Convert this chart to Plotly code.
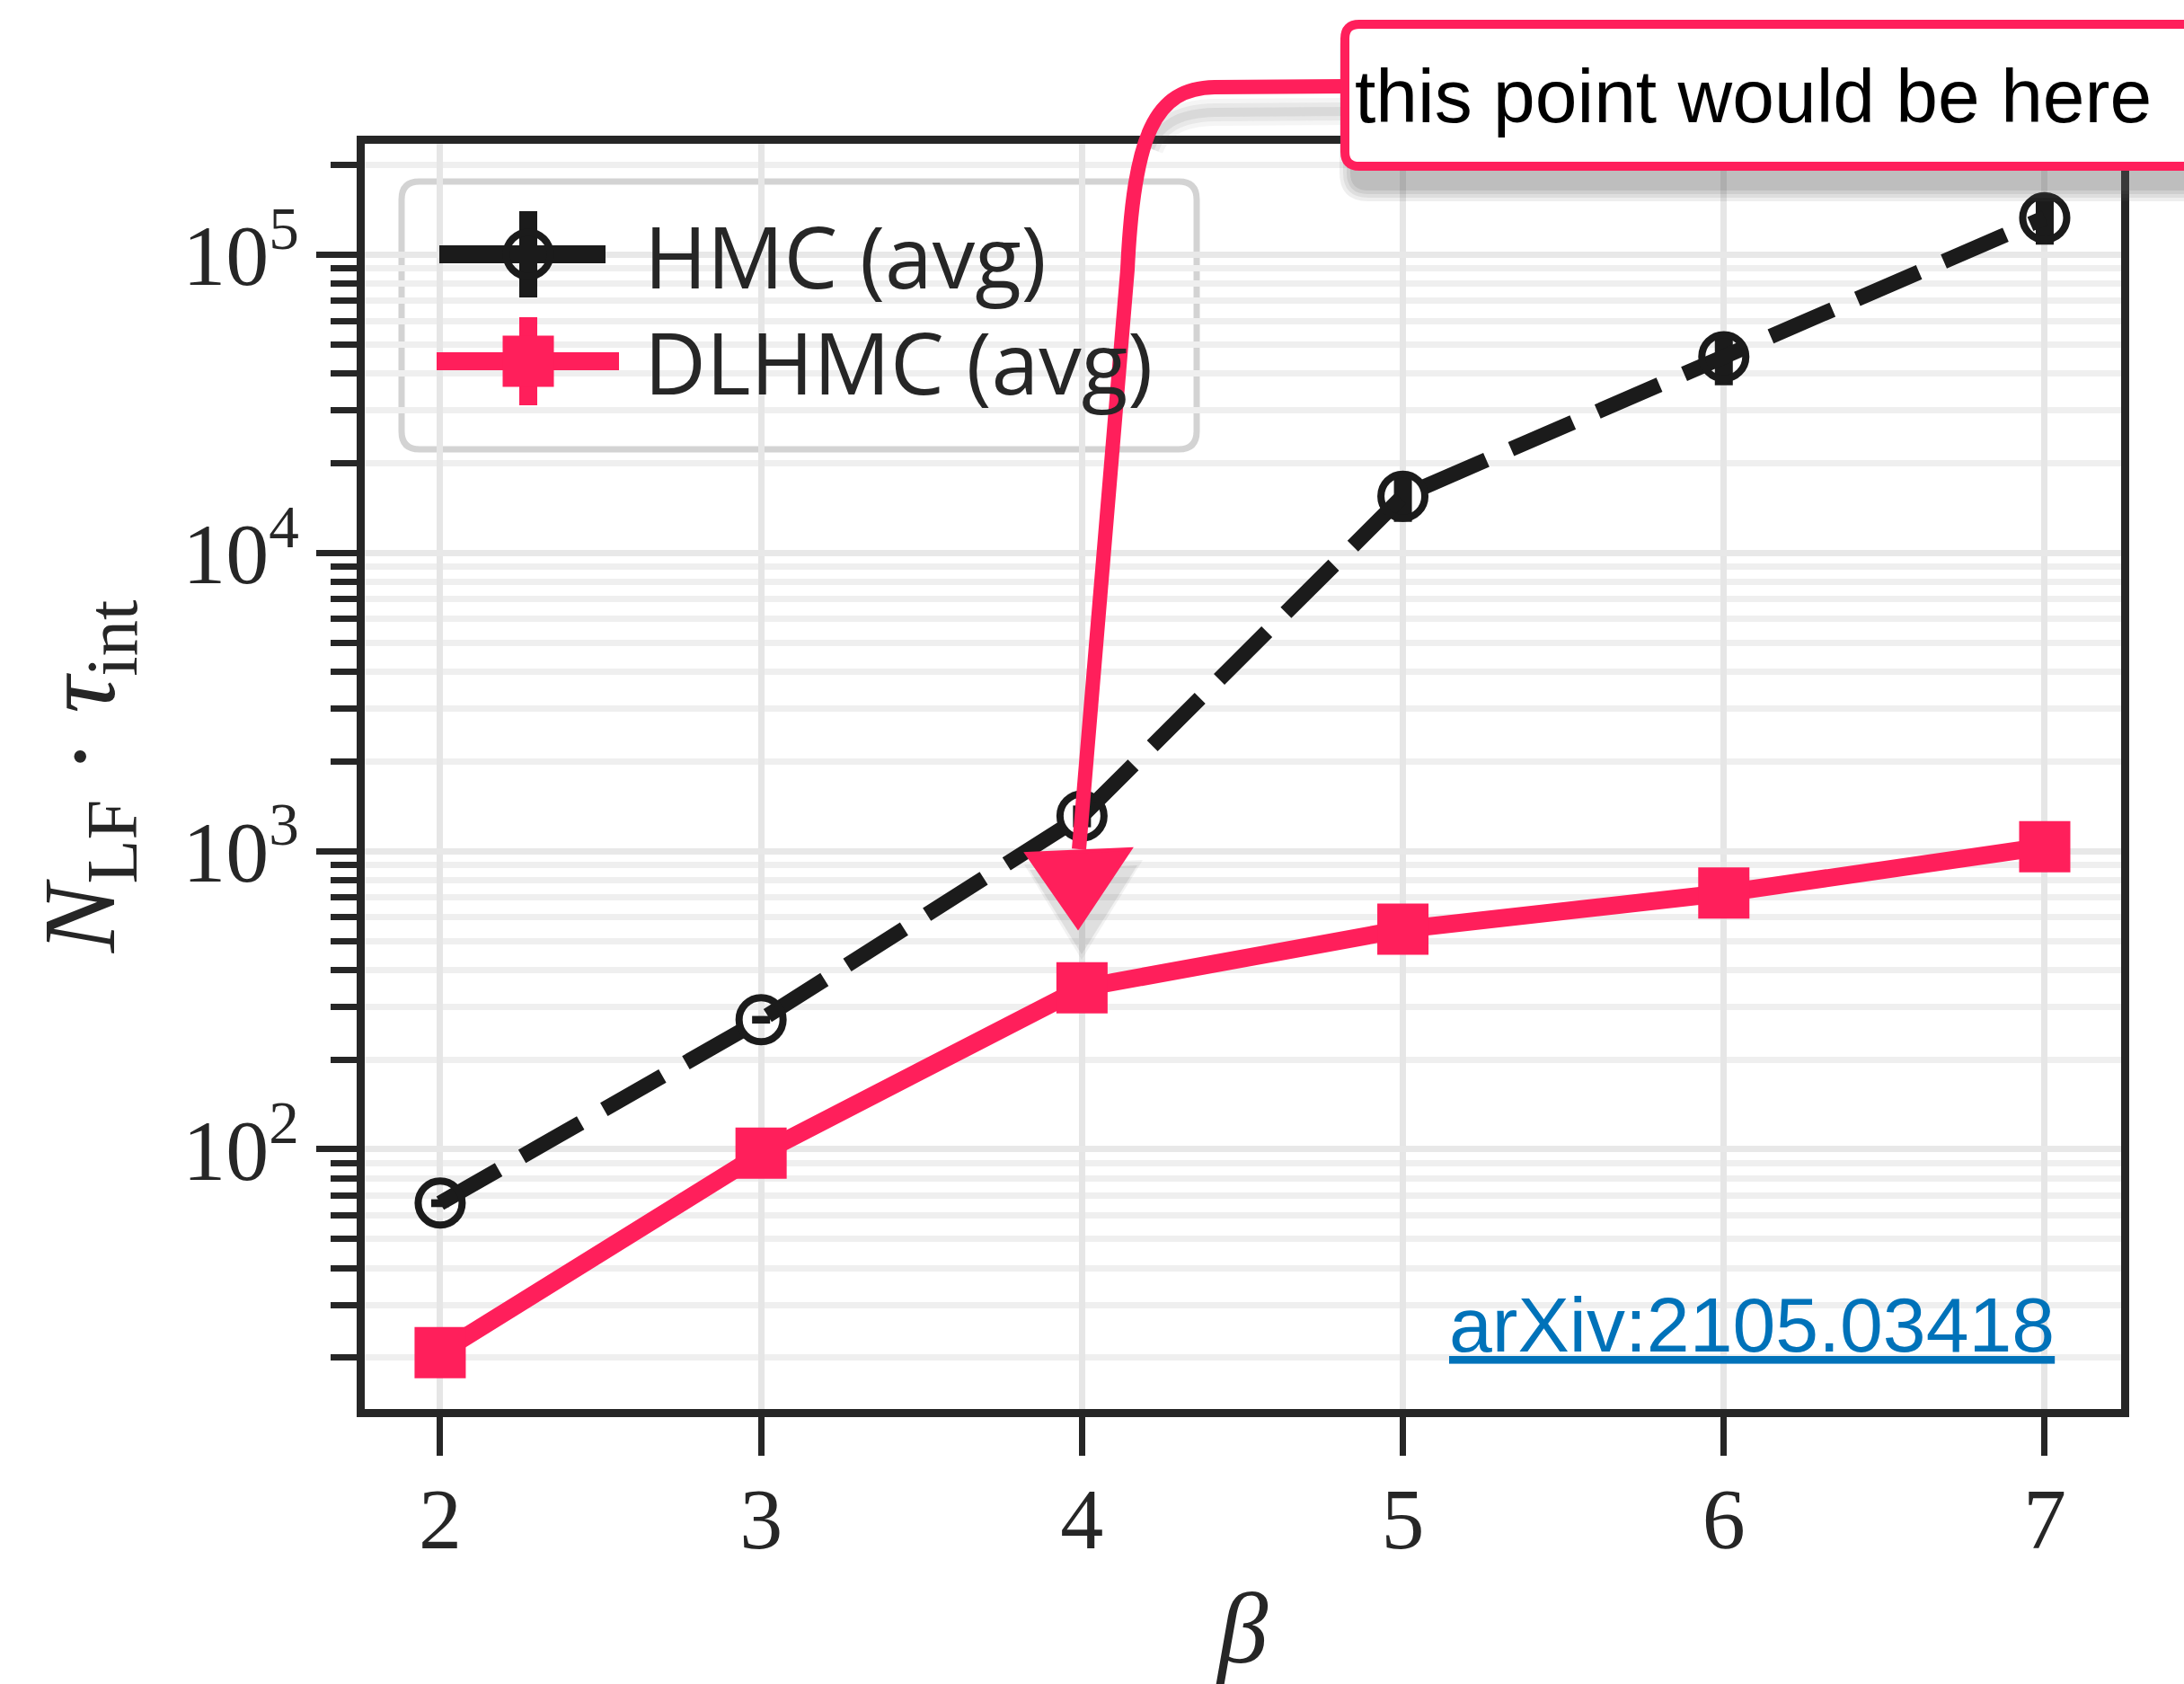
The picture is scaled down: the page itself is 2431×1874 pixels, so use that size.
import plotly.graph_objects as go

# ---------------- data ----------------
beta = [2, 3, 4, 5, 6, 7]
hmc_avg = [66, 272, 1312, 15500, 45500, 133000]
hmc_err = [2, 8, 110, 2800, 9000, 25000]
dlhmc_avg = [20.8, 97, 348, 547, 723, 1035]
dlhmc_err = [1, 4, 15, 25, 30, 40]

x_ticks = [2, 3, 4, 5, 6, 7]
y_ticks = [1e2, 1e3, 1e4, 1e5]
y_ticktext = ["10<sup>2</sup>", "10<sup>3</sup>", "10<sup>4</sup>", "10<sup>5</sup>"]
y_minor = [m * 10 ** k for k in range(1, 6) for m in range(2, 10)]

legend_labels = ["HMC (avg)", "DLHMC (avg)"]
note_text = "this point would be here"
ref_text = "arXiv:2105.03418"

BLACK = "#1b1b1b"
PINK = "#ff1f5b"
FRAME = "#262626"

# ---------------- pixel helpers (decorations only) ----------------
L, R, T, B = 406, 2361, 160, 1568


def px(X):
    return (X - L) / (R - L)


def py(Y):
    return (B - Y) / (B - T)


def P(X, Y):
    return f"{px(X):.5f},{py(Y):.5f}"


def rrect(x0, y0, x1, y1, r):
    return (f"M {P(x0 + r, y0)} L {P(x1 - r, y0)} Q {P(x1, y0)} {P(x1, y0 + r)} "
            f"L {P(x1, y1 - r)} Q {P(x1, y1)} {P(x1 - r, y1)} L {P(x0 + r, y1)} "
            f"Q {P(x0, y1)} {P(x0, y1 - r)} L {P(x0, y0 + r)} Q {P(x0, y0)} {P(x0 + r, y0)} Z")


fig = go.Figure()

# ---------------- data traces ----------------
fig.add_trace(go.Scatter(
    x=beta, y=hmc_avg, mode="lines+markers", name=legend_labels[0],
    line=dict(color=BLACK, width=17, dash="75px,30px"),
    marker=dict(symbol="circle-open", size=49, color=BLACK, line=dict(width=8, color=BLACK)),
    error_y=dict(type="data", array=hmc_err, arrayminus=hmc_err, thickness=20, width=0, color=BLACK),
    showlegend=False,
))
fig.add_trace(go.Scatter(
    x=beta, y=dlhmc_avg, mode="lines+markers", name=legend_labels[1],
    line=dict(color=PINK, width=20),
    marker=dict(symbol="square", size=57, color=PINK, line=dict(width=0)),
    error_y=dict(type="data", array=dlhmc_err, arrayminus=dlhmc_err, thickness=20, width=0, color=PINK),
    showlegend=False,
))

# ---------------- legend samples on an overlay axis ----------------
fig.add_trace(go.Scatter(x=[px(489), px(674)], y=[py(283), py(283)], mode="lines",
                         line=dict(color=BLACK, width=20), xaxis="x2", yaxis="y2",
                         showlegend=False, hoverinfo="skip"))
fig.add_trace(go.Scatter(x=[px(588)], y=[py(283)], mode="markers",
                         marker=dict(symbol="circle-open", size=49, color=BLACK,
                                     line=dict(width=8, color=BLACK)),
                         error_y=dict(type="constant", value=48 / (B - T), thickness=20, width=0, color=BLACK),
                         xaxis="x2", yaxis="y2", showlegend=False, hoverinfo="skip"))
fig.add_trace(go.Scatter(x=[px(486), px(689)], y=[py(402), py(402)], mode="lines",
                         line=dict(color=PINK, width=20), xaxis="x2", yaxis="y2",
                         showlegend=False, hoverinfo="skip"))
fig.add_trace(go.Scatter(x=[px(588)], y=[py(402)], mode="markers",
                         marker=dict(symbol="square", size=57, color=PINK),
                         error_y=dict(type="constant", value=49 / (B - T), thickness=20, width=0, color=PINK),
                         xaxis="x2", yaxis="y2", showlegend=False, hoverinfo="skip"))

shapes = []
# legend box
shapes.append(dict(type="path", xref="paper", yref="paper", path=rrect(447, 202, 1332, 500, 20),
                   fillcolor="rgba(255,255,255,0.8)", line=dict(color="#d3d3d3", width=7), layer="between"))

# callout box shadow (soft, layered)
for i, op in enumerate([0.10, 0.10, 0.12, 0.14]):
    g = 14 - 4 * i
    shapes.append(dict(type="path", xref="paper", yref="paper",
                       path=rrect(1505 - g, 38 - g, 2470 + g, 210 + g, 18 + g),
                       fillcolor=f"rgba(90,90,90,{op})", line=dict(width=0), layer="above"))
# arrow shadow (soft, under the horizontal part only)
arrow_shadow = (f"M {P(1497, 124)} L {P(1352, 125)} C {P(1310, 126)} {P(1290, 140)} {P(1280, 165)}")
for w, op in [(30, 0.06), (20, 0.08), (10, 0.10)]:
    shapes.append(dict(type="path", xref="paper", yref="paper", path=arrow_shadow,
                       line=dict(color=f"rgba(90,90,90,{op})", width=w), layer="above"))
for g, op in [(10, 0.08), (4, 0.12)]:
    shapes.append(dict(type="path", xref="paper", yref="paper",
                       path=f"M {P(1150 - g, 972 - g)} L {P(1262 + g, 967 - g)} L {P(1204, 1058 + g)} Z",
                       fillcolor=f"rgba(90,90,90,{op})", line=dict(width=0), layer="above"))
# arrow
arrow_path = (f"M {P(1497, 96)} L {P(1352, 97)} C {P(1285, 98)} {P(1262, 150)} {P(1255, 300)} "
              f"L {P(1201, 945)}")
shapes.append(dict(type="path", xref="paper", yref="paper", path=arrow_path,
                   line=dict(color=PINK, width=16), layer="above"))
shapes.append(dict(type="path", xref="paper", yref="paper",
                   path=f"M {P(1143, 950)} L {P(1258, 945)} L {P(1200, 1032)} Z",
                   fillcolor=PINK, line=dict(color=PINK, width=4), layer="above"))
# callout box
shapes.append(dict(type="path", xref="paper", yref="paper", path=rrect(1497, 27, 2470, 185, 16),
                   fillcolor="white", line=dict(color=PINK, width=10), layer="above"))

annotations = [
    dict(text=legend_labels[0], x=px(715), y=py(284), xref="paper", yref="paper",
         xanchor="left", yanchor="middle", showarrow=False,
         font=dict(family="Open Sans", size=95, color=FRAME)),
    dict(text=legend_labels[1], x=px(715), y=py(402), xref="paper", yref="paper",
         xanchor="left", yanchor="middle", showarrow=False,
         font=dict(family="Open Sans", size=95, color=FRAME)),
    dict(text=note_text, x=px(1506), y=py(107), xref="paper", yref="paper",
         xanchor="left", yanchor="middle", showarrow=False,
         font=dict(family="Liberation Sans", size=84, color="black")),
    dict(text=f"<u>{ref_text}</u>", x=px(1611), y=py(1474), xref="paper", yref="paper",
         xanchor="left", yanchor="middle", showarrow=False,
         font=dict(family="Liberation Sans", size=86, color="#0072b9")),
]

fig.update_layout(
    width=2431, height=1874,
    margin=dict(l=L, r=2431 - R, t=T, b=1874 - B, pad=0),
    paper_bgcolor="white", plot_bgcolor="white",
    showlegend=False,
    shapes=shapes, annotations=annotations,
    xaxis=dict(
        range=[1.765, 7.238], tickvals=x_ticks, showline=True, linewidth=9, linecolor=FRAME,
        mirror=True, ticks="outside", ticklen=43, tickwidth=7, tickcolor=FRAME,
        showgrid=True, gridcolor="#e6e6e6", gridwidth=7, zeroline=False,
        ticklabelstandoff=-12,
        tickfont=dict(family="Liberation Serif", size=96, color=FRAME),
        title=dict(text="<i>β</i>", font=dict(family="Liberation Serif", size=112, color=FRAME), standoff=40),
    ),
    yaxis=dict(
        type="log", range=[1.129, 5.372], tickvals=y_ticks, ticktext=y_ticktext,
        showline=True, linewidth=9, linecolor=FRAME, mirror=True,
        ticks="outside", ticklen=45, tickwidth=7, tickcolor=FRAME,
        showgrid=True, gridcolor="#e8e8e8", gridwidth=7, zeroline=False,
        tickfont=dict(family="Liberation Serif", size=96, color=FRAME),
        minor=dict(tickvals=y_minor, ticks="outside", ticklen=29, tickwidth=7, tickcolor=FRAME,
                   showgrid=True, gridcolor="#efefef", gridwidth=7),
        title=dict(text="<i>N</i><sub>LF</sub> · <i>τ</i><sub>int</sub>",
                   font=dict(family="Liberation Serif", size=115, color=FRAME), standoff=40),
    ),
    xaxis2=dict(overlaying="x", anchor="y2", range=[0, 1], visible=False, fixedrange=True),
    yaxis2=dict(overlaying="y", anchor="x2", range=[0, 1], visible=False, fixedrange=True),
)

fig.write_html("out.html", config={"displayModeBar": False},
               post_script="document.body.style.margin='0px';document.body.style.overflow='hidden';")
